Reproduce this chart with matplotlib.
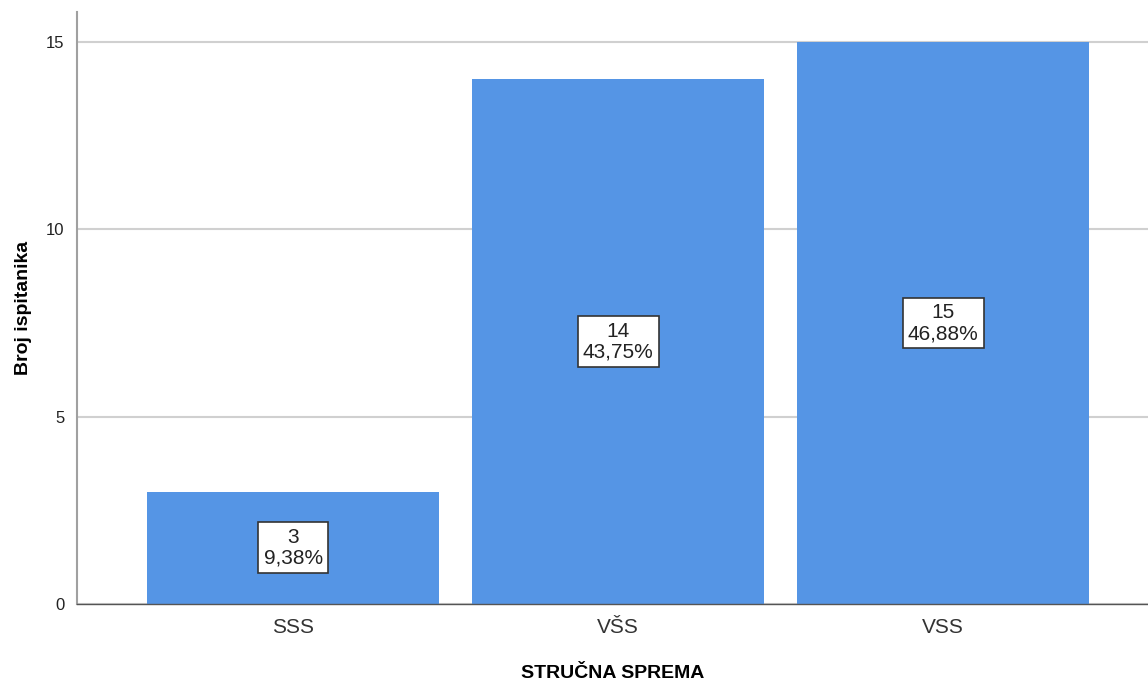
import matplotlib
matplotlib.use('Agg')
import matplotlib.pyplot as plt

plt.rcParams['font.family'] = ['Liberation Sans', 'DejaVu Sans']

# data
categories = ['SSS', 'VŠS', 'VSS']
counts = [3, 14, 15]
percents = ['9,38%', '43,75%', '46,88%']

fig = plt.figure(figsize=(11.48, 6.82), dpi=100)
ax = fig.add_axes([0.0671, 0.1144, 0.9329, 0.8680])

x = list(range(len(categories)))
ax.bar(x, counts, width=0.9, color='#5595e5', edgecolor='none', zorder=2)

for xi, c, p in zip(x, counts, percents):
    ax.text(xi, c / 2, '%d\n%s' % (c, p), ha='center', va='center', fontsize=15,
            color='#222222', linespacing=1.15, zorder=3,
            bbox=dict(boxstyle='square,pad=0.25', fc='white', ec='#333333', lw=1.2))

ax.set_xlim(-0.665, 2.63)
ax.set_ylim(0, 15.8)
ax.set_yticks([0, 5, 10, 15])
ax.set_xticks(x)
ax.set_xticklabels(categories, fontsize=15, color='#333333')
ax.tick_params(axis='y', labelsize=12, length=0, pad=9, colors='#222222')
ax.tick_params(axis='x', length=0, pad=10)
ax.yaxis.grid(True, color='#d0d0d0', lw=1.5, zorder=0)
ax.set_axisbelow(True)

for s in ['top', 'right']:
    ax.spines[s].set_visible(False)
ax.spines['left'].set_color('#a0a0a0')
ax.spines['left'].set_linewidth(1.5)
ax.spines['bottom'].set_color('#555555')
ax.spines['bottom'].set_linewidth(1.0)

ax.set_xlabel('STRUČNA SPREMA', fontsize=14, fontweight='bold', labelpad=20)
ax.set_ylabel('Broj ispitanika', fontsize=14, fontweight='bold', labelpad=10)

fig.savefig('out.png', dpi=100)
